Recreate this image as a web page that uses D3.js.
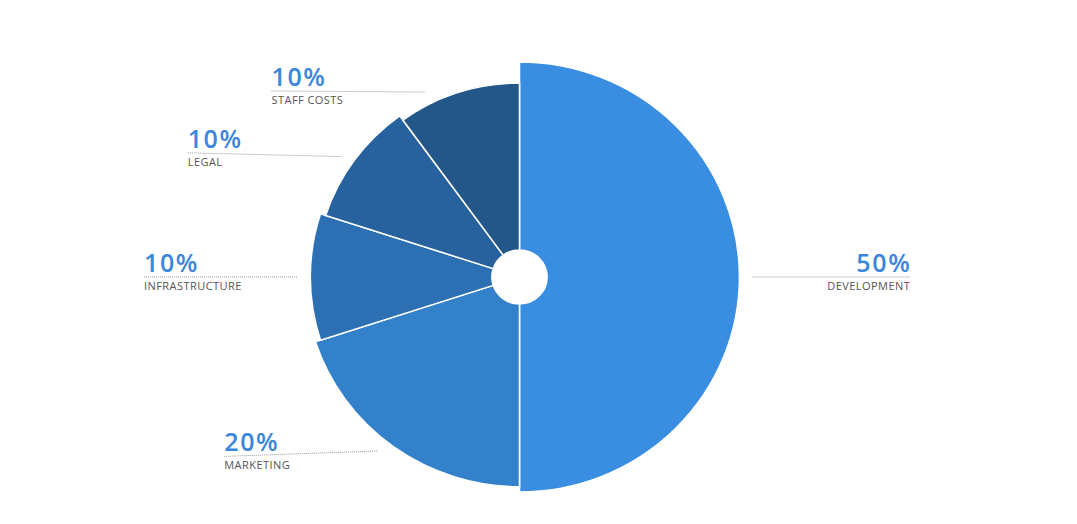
<!DOCTYPE html>
<html>
<head>
<meta charset="utf-8">
<script src="https://cdn.jsdelivr.net/npm/d3@7"></script>
<style>
  body { margin: 0; background: #fff; }
  svg { display: block; }
</style>
</head>
<body>
<div id="chart"></div>
<script>
// data
var categories = ["DEVELOPMENT", "MARKETING", "INFRASTRUCTURE", "LEGAL", "STAFF COSTS"];
var shares = [50, 20, 10, 10, 10];
var percentLabels = ["50%", "20%", "10%", "10%", "10%"];
var sliceColors = ["#3a8ee2", "#3380cb", "#2c70b3", "#27629f", "#235789"];

var W = 1077, H = 524;
var cx = 519.5, cy = 277, xStretch = 1.023;
var topLimit = 91;

var svg = d3.select("#chart").append("svg")
            .attr("width", W)
            .attr("height", H);

var rows = categories.map(function(c, i){
  return {name: c, value: shares[i], pct: percentLabels[i], color: sliceColors[i], idx: i};
});

var pie = d3.pie().sort(null).value(function(d){ return d.value; });
var arcs = pie(rows);

// each following slice a bit shorter
var radius = d3.scaleLinear().domain([0, rows.length - 1]).range([215, 194]);
var innerR = 27;

var pieG = svg.append("g")
              .attr("transform", "translate(" + cx + "," + cy + ") scale(" + xStretch + ",1)");

pieG.selectAll("path.slice")
    .data(arcs)
    .enter().append("path")
    .attr("class", "slice")
    .attr("d", function(d){
      return d3.arc().innerRadius(innerR).outerRadius(radius(d.data.idx))(d);
    })
    .attr("fill", function(d){ return d.data.color; })
    .attr("stroke", "#fff")
    .attr("stroke-width", 1.5);

//labels
var labelG = svg.append("g");
var pctSpacing = 1.6, nameSpacing = 0.45;
arcs.forEach(function(d){
  var mid = (d.startAngle + d.endAngle) / 2;
  var r = radius(d.data.idx);
  var naturalY = cy - (r + 12) * Math.cos(mid);
  var lineY = Math.max(naturalY, topLimit);
  var clamped = naturalY < topLimit;
  var endY = clamped ? lineY + 1 : lineY - (lineY - cy) * 0.03;
  var rEnd = r + 13;
  var dy = endY - cy;
  var dx = Math.sqrt(Math.max(rEnd * rEnd - dy * dy, 0)) * xStretch;
  var right = Math.sin(mid) > 0;
  var endX = right ? cx + dx : cx - dx;
  var startX = right ? endX + 157 : endX - 153;
  var anchor = right ? "end" : "start";

  labelG.append("line")
        .attr("x1", startX).attr("y1", lineY)
        .attr("x2", endX).attr("y2", endY)
        .attr("stroke", "#9a9a9a")
        .attr("stroke-width", 1)
        .attr("stroke-dasharray", "1,1");

  labelG.append("text")
        .attr("x", startX + (right ? pctSpacing : 0)).attr("y", lineY - 5)
        .attr("text-anchor", anchor)
        .attr("font-family", "'Open Sans', Lato, sans-serif")
        .attr("font-weight", 600)
        .attr("font-size", 25)
        .attr("letter-spacing", pctSpacing)
        .attr("fill", "#3a86dc")
        .text(d.data.pct);

  labelG.append("text")
        .attr("x", startX + (right ? nameSpacing : 0)).attr("y", lineY + 13)
        .attr("text-anchor", anchor)
        .attr("font-family", "'Open Sans', Lato, sans-serif")
        .attr("font-size", 11)
        .attr("letter-spacing", nameSpacing)
        .attr("fill", "#555")
        .text(d.data.name);
});
</script>
</body>
</html>
